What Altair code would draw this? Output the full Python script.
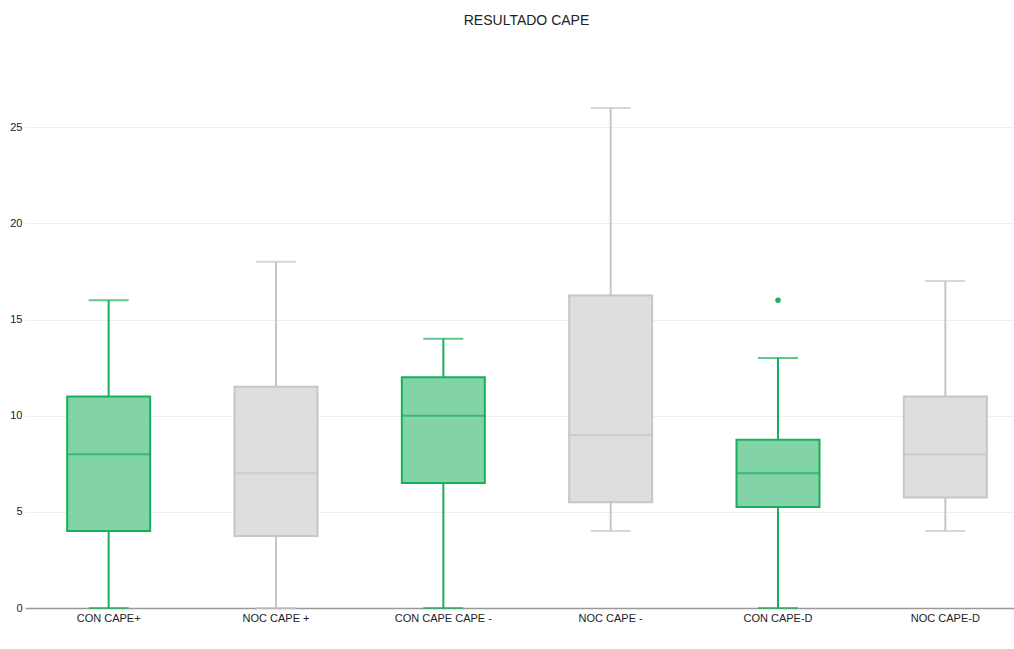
import altair as alt
import pandas as pd

categories = ["CON CAPE+", "NOC CAPE +", "CON CAPE CAPE -", "NOC CAPE -", "CON CAPE-D", "NOC CAPE-D"]
groups = ["CON", "NOC", "CON", "NOC", "CON", "NOC"]
lows = [0, 0, 0, 4, 0, 4]
q1s = [4, 3.75, 6.5, 5.5, 5.25, 5.75]
medians = [8, 7, 10, 9, 7, 8]
q3s = [11, 11.5, 12, 16.25, 8.75, 11]
highs = [16, 18, 14, 26, 13, 17]
outlier_cats = ["CON CAPE-D"]
outlier_vals = [16]

stroke_colors = {"CON": "#1aaf5d", "NOC": "#c6c6c6"}
fill_colors = {"CON": "#82d4a8", "NOC": "#dedede"}

df = pd.DataFrame({
    "cat": categories,
    "grp": groups,
    "low": lows,
    "q1": q1s,
    "med": medians,
    "q3": q3s,
    "high": highs,
})
df["stroke"] = df["grp"].map(stroke_colors)
df["fill"] = df["grp"].map(fill_colors)

out_df = pd.DataFrame({"cat": outlier_cats, "val": outlier_vals})
out_df["stroke"] = [stroke_colors["CON"]]

x_enc = alt.X(
    "cat:N",
    sort=categories,
    title=None,
    scale=alt.Scale(range=[0, 1004], paddingInner=0, paddingOuter=0),
    axis=alt.Axis(
        labelAngle=0,
        labelFont="Liberation Sans",
        labelFontSize=11,
        labelColor="#222",
        labelPadding=4,
        ticks=False,
        domain=True,
        domainColor="#999999",
        domainWidth=1.5,
        grid=False,
    ),
)
y_scale = alt.Scale(domain=[0, 30], nice=False)
y_axis = alt.Axis(
    values=[0, 5, 10, 15, 20, 25],
    labelFont="Liberation Sans",
    labelFontSize=11,
    labelColor="#222",
    labelPadding=3,
    ticks=False,
    domain=False,
    gridColor="#eeeeee",
    gridWidth=1,
    title=None,
)

base = alt.Chart(df)

whisk_lo = base.mark_rule(strokeWidth=2).encode(
    x=x_enc,
    y=alt.Y("low:Q", scale=y_scale, axis=y_axis),
    y2="q1:Q",
    color=alt.Color("stroke:N", scale=None),
)
whisk_hi = base.mark_rule(strokeWidth=2).encode(
    x=x_enc,
    y=alt.Y("q3:Q", scale=y_scale),
    y2="high:Q",
    color=alt.Color("stroke:N", scale=None),
)
box = base.mark_bar(size=83, strokeWidth=2).encode(
    x=x_enc,
    y=alt.Y("q1:Q", scale=y_scale),
    y2="q3:Q",
    fill=alt.Fill("fill:N", scale=None),
    stroke=alt.Stroke("stroke:N", scale=None),
)
median = base.mark_tick(size=83, thickness=2).encode(
    x=x_enc,
    y=alt.Y("med:Q", scale=y_scale),
    color=alt.Color("stroke:N", scale=None),
)
cap_lo = base.mark_tick(size=40, thickness=2).encode(
    x=x_enc,
    y=alt.Y("low:Q", scale=y_scale),
    color=alt.Color("stroke:N", scale=None),
)
cap_hi = base.mark_tick(size=40, thickness=2).encode(
    x=x_enc,
    y=alt.Y("high:Q", scale=y_scale),
    color=alt.Color("stroke:N", scale=None),
)
outliers = alt.Chart(out_df).mark_circle(size=30, opacity=1).encode(
    x=x_enc,
    y=alt.Y("val:Q", scale=y_scale),
    color=alt.Color("stroke:N", scale=None),
)

chart = alt.layer(whisk_lo, whisk_hi, box, median, cap_lo, cap_hi, outliers).properties(
    width=989,
    height=577,
    title=alt.TitleParams(
        "RESULTADO CAPE",
        font="Liberation Sans",
        fontSize=14,
        fontWeight="normal",
        color="#222",
        anchor="middle",
        dx=7,
        offset=3,
    ),
    autosize=alt.AutoSizeParams(type="none"),
    padding={"left": 25, "top": 31, "right": 0, "bottom": 41},
).configure(background="white").configure_view(stroke=None, strokeWidth=0)

chart.save("out.html", embed_options={"renderer": "svg", "actions": False})
